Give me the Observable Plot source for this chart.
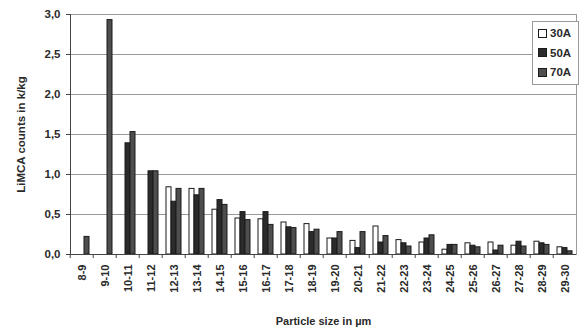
<!DOCTYPE html>
<html>
<head>
<meta charset="utf-8">
<script src="https://cdn.jsdelivr.net/npm/d3@7"></script>
<script src="https://cdn.jsdelivr.net/npm/@observablehq/plot@0.6"></script>
<style>
  html, body { margin: 0; padding: 0; background: white; }
  #wrap { position: relative; width: 584px; height: 333px; font-family: "Liberation Sans", Arial, sans-serif; }
  #legend { position: absolute; left: 532px; top: 21px; width: 45px; height: 62px; border: 1px solid #9a9a9a; background: white; font-weight: bold; font-size: 11.5px; color: #2a2a2a; }
  .item { position: absolute; left: 5px; display: flex; align-items: center; }
  .sw { width: 7px; height: 7px; border: 1px solid #1a1a1a; margin-right: 3px; }
</style>
</head>
<body>
<div id="wrap"></div>
<script>
const categories = ["8-9","9-10","10-11","11-12","12-13","13-14","14-15","15-16","16-17","17-18","18-19","19-20","20-21","21-22","22-23","23-24","24-25","25-26","26-27","27-28","28-29","29-30"];
const series = ["30A","50A","70A"];
const values30A = [0, 0, 0, 0, 0.84, 0.82, 0.56, 0.45, 0.44, 0.40, 0.38, 0.20, 0.17, 0.35, 0.18, 0.15, 0.06, 0.14, 0.15, 0.11, 0.16, 0.09];
const values50A = [0, 0, 1.39, 1.04, 0.66, 0.74, 0.68, 0.53, 0.53, 0.34, 0.28, 0.20, 0.08, 0.15, 0.14, 0.20, 0.12, 0.11, 0.05, 0.16, 0.14, 0.08];
const values70A = [0.22, 2.93, 1.53, 1.04, 0.82, 0.82, 0.62, 0.43, 0.37, 0.33, 0.31, 0.28, 0.28, 0.23, 0.10, 0.24, 0.12, 0.09, 0.11, 0.10, 0.12, 0.04];
const yTicks = [0, 0.5, 1.0, 1.5, 2.0, 2.5, 3.0];
const colors = ["#ffffff", "#2b2b2b", "#4e4e4e"];

const seriesValues = [values30A, values50A, values70A];
const data = categories.flatMap((c, i) => series.map((s, j) => ({cat: c, series: s, value: seriesValues[j][i]})))
  .filter(d => d.value > 0);

const W = 584, ML = 63, MR = 2;
const step = (W - ML - MR) / categories.length;
const fmt = d => d.toFixed(1).replace(".", ",");

const chart = Plot.plot({
  width: W, height: 333,
  marginLeft: ML, marginRight: MR, marginTop: 14, marginBottom: 79,
  style: {fontFamily: "'Liberation Sans', Arial, sans-serif", fontWeight: "bold", fontSize: "11px", color: "#2a2a2a", background: "white"},
  fx: {domain: categories, padding: 0},
  x: {domain: series, paddingInner: 0, paddingOuter: 0.57, axis: null},
  y: {domain: [0, 3]},
  color: {domain: series, range: colors},
  marks: [
    Plot.ruleY(yTicks.filter(t => t > 0), {stroke: "#9a9a9a", strokeWidth: 1}),
    Plot.frame({facet: "super", stroke: "#9a9a9a"}),
    Plot.barY(data, {fx: "cat", x: "series", y: "value", fill: "series", stroke: "#1a1a1a", strokeWidth: 1}),
    Plot.ruleY([0], {stroke: "#444"}),
    Plot.frame({facet: "super", anchor: "left", stroke: "#444"}),
    Plot.axisY({ticks: yTicks, tickFormat: fmt, tickSize: 4, tickPadding: 6, fontSize: 11.5, stroke: "#444",
      label: "LiMCA counts in k/kg", labelAnchor: "center", labelOffset: 54, labelArrow: "none"}),
    Plot.axisFx({anchor: "bottom", tickSize: 4, tickFormat: () => "", dx: -step / 2, label: null, stroke: "#444"}),
    Plot.axisFx({anchor: "bottom", tickSize: 0, tickPadding: 10, tickRotate: -90, fontSize: 11,
      label: "Particle size in µm", labelAnchor: "center", labelOffset: 70, labelArrow: "none"})
  ]
});
const wrap = document.getElementById("wrap");
wrap.appendChild(chart);

const legend = document.createElement("div");
legend.id = "legend";
series.forEach((s, i) => {
  const item = document.createElement("div");
  item.className = "item";
  item.style.top = (5 + i * 19.5) + "px";
  const sw = document.createElement("div");
  sw.className = "sw";
  sw.style.background = colors[i];
  const t = document.createElement("span");
  t.textContent = s;
  item.appendChild(sw); item.appendChild(t);
  legend.appendChild(item);
});
wrap.appendChild(legend);
</script>
</body>
</html>
